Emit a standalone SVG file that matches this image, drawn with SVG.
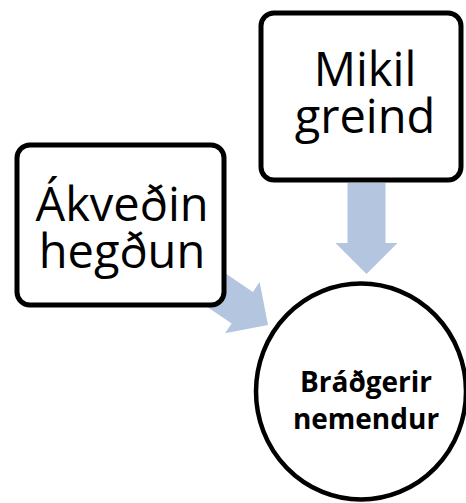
<svg xmlns="http://www.w3.org/2000/svg" width="466" height="503" viewBox="0 0 466 503">
<defs>
<style>
.box{fill:#ffffff;stroke:#000000;stroke-width:5}
.arrow{fill:#b4c5e0;stroke:none}
.big{font-family:"Open Sans","Liberation Sans",Arial,sans-serif;font-size:47px;fill:#000;text-anchor:middle}
.small{font-family:"Open Sans","Liberation Sans",Arial,sans-serif;font-size:28px;font-weight:bold;fill:#000;text-anchor:middle}
</style>
<path id="arr" d="M0,0 L-31,-31 L-31,-19 L-91,-19 L-91,19 L-31,19 L-31,31 Z"/>
</defs>
<rect width="466" height="503" fill="#ffffff"/>
<g id="connectors">
<use href="#arr" class="arrow" transform="translate(366.5,274) rotate(90)"/>
<use href="#arr" class="arrow" transform="translate(268,325) rotate(34)"/>
</g>
<g id="node-akvedin">
<rect class="box" x="17" y="145" width="207" height="160" rx="13"/>
<text class="big" x="122" y="221">Ákveðin</text>
<text class="big" x="122" y="268">hegðun</text>
</g>
<g id="node-mikil">
<rect class="box" x="261" y="13" width="200" height="167" rx="13"/>
<text class="big" x="365" y="86">Mikil</text>
<text class="big" x="365" y="133">greind</text>
</g>
<g id="node-bradgerir">
<ellipse class="box" cx="361" cy="391.5" rx="105" ry="108" style="stroke-width:4.5"/>
<text class="small" x="366" y="392">Bráðgerir</text>
<text class="small" x="366" y="429">nemendur</text>
</g>
</svg>
